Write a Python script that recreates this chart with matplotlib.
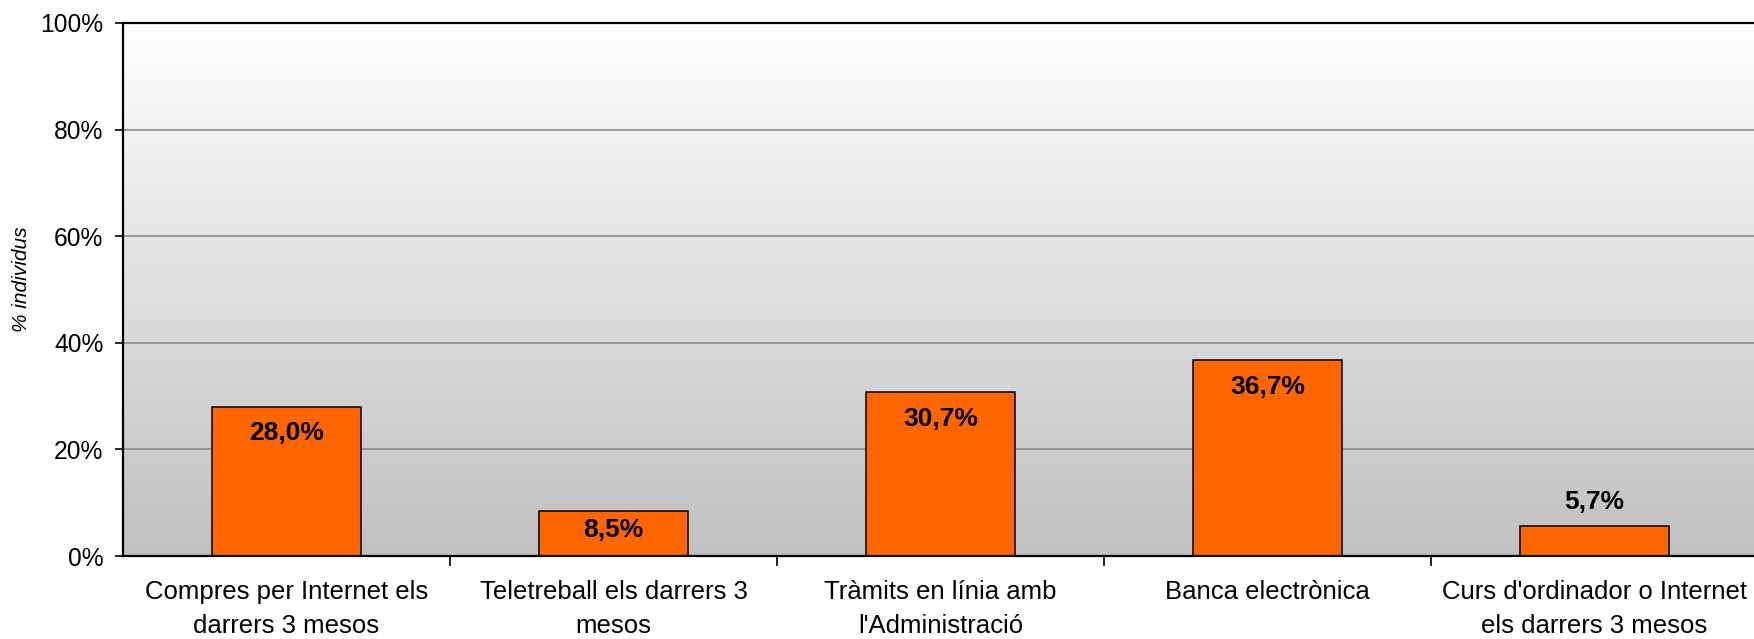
import matplotlib

matplotlib.use("Agg")
import matplotlib.pyplot as plt
import matplotlib.font_manager as font_manager
import numpy as np
from matplotlib.colors import LinearSegmentedColormap

# data
categories = [
    "Compres per Internet els\ndarrers 3 mesos",
    "Teletreball els darrers 3\nmesos",
    "Tràmits en línia amb\nl'Administració",
    "Banca electrònica",
    "Curs d'ordinador o Internet\nels darrers 3 mesos",
]
values = [28.0, 8.5, 30.7, 36.7, 5.7]
value_labels = ["28,0%", "8,5%", "30,7%", "36,7%", "5,7%"]
y_ticks = [0, 20, 40, 60, 80, 100]
y_ticklabels = ["0%", "20%", "40%", "60%", "80%", "100%"]


def bar_plot():
    # plot setting
    fig = plt.figure(figsize=(17.54, 6.39), dpi=100)
    ax = fig.add_axes([123 / 1754, 83 / 639, 1635 / 1754, 533 / 639])

    y_tick_font = font_manager.FontProperties(
        family="Liberation Sans", style="normal", size=17.7
    )
    x_tick_font = font_manager.FontProperties(
        family="Liberation Sans", style="normal", size=18.5
    )
    label_font = font_manager.FontProperties(
        family="Liberation Sans", weight="bold", size=19
    )
    ylabel_font = font_manager.FontProperties(
        family="Liberation Sans", style="italic", size=15
    )

    x = np.arange(len(values))

    # gradient background (white at top -> grey at bottom)
    cmap = LinearSegmentedColormap.from_list("bg", ["#c0c0c0", "#ffffff"])
    grad = np.linspace(0, 1, 256).reshape(-1, 1)
    ax.imshow(
        grad,
        cmap=cmap,
        aspect="auto",
        origin="lower",
        extent=[-0.5, len(values) - 0.5, 0, 100],
        zorder=0,
    )

    # grid lines
    for yv in y_ticks[1:-1]:
        ax.axhline(yv, color="#8c8c8c", linewidth=1.2, zorder=1)

    # bars
    ax.bar(
        x,
        values,
        width=0.455,
        color="#ff6600",
        edgecolor="black",
        linewidth=1.1,
        zorder=2,
    )

    # data labels
    for xi, v, lab in zip(x, values, value_labels):
        if v < 7:
            off = 17
        elif v < 12:
            off = -14
        else:
            off = -19
        ax.annotate(
            lab,
            (xi, v),
            xytext=(0, off),
            textcoords="offset points",
            ha="center",
            va="center",
            fontproperties=label_font,
            zorder=3,
        )

    # formating
    ax.set_xlim(-0.5, len(values) - 0.5)
    ax.set_ylim(0, 100)

    ax.set_yticks(y_ticks)
    ax.set_yticklabels(y_ticklabels, fontproperties=y_tick_font)
    ax.tick_params(axis="y", direction="out", length=6, width=1.2, pad=8)

    ax.set_xticks(x)
    ax.set_xticklabels(categories, fontproperties=x_tick_font, linespacing=1.55)
    ax.tick_params(axis="x", which="major", length=0, pad=17)
    ax.set_xticks(np.arange(len(values) - 1) + 0.5, minor=True)
    ax.tick_params(axis="x", which="minor", direction="out", length=7, width=1.2)

    for side in ["left", "bottom", "top"]:
        ax.spines[side].set_linewidth(1.6)
        ax.spines[side].set_color("black")
    ax.spines["right"].set_visible(False)

    ax.set_ylabel("% individus", fontproperties=ylabel_font)
    ax.yaxis.set_label_coords(-0.056, 0.52)

    plt.savefig("out.png", dpi=100)


bar_plot()
